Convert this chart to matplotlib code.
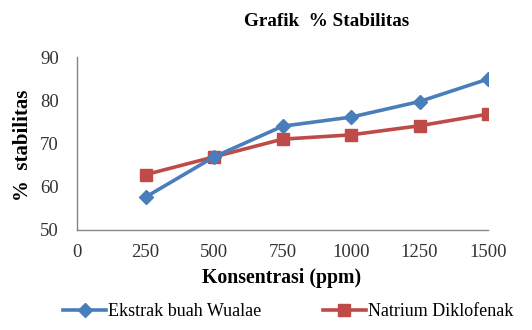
import matplotlib
matplotlib.use("Agg")
import matplotlib.pyplot as plt

konsentrasi = [250, 500, 750, 1000, 1250, 1500]
ekstrak = [57.6, 66.9, 74.0, 76.1, 79.7, 84.9]
natrium = [62.8, 66.9, 71.0, 72.0, 74.1, 76.8]
xticks = [0, 250, 500, 750, 1000, 1250, 1500]
yticks = [50, 60, 70, 80, 90]

plt.rcParams['font.family'] = ['Liberation Serif', 'DejaVu Serif']

fig = plt.figure(figsize=(5.32, 3.30), dpi=100)
ax = fig.add_axes([77/532, 1-230/330, 411/532, 173/330])

blue = '#4A7EBB'
red = '#BE4B48'
ax.plot(konsentrasi, ekstrak, color=blue, lw=2.6, marker='D', markersize=7,
        label='Ekstrak buah Wualae', zorder=3)
ax.plot(konsentrasi, natrium, color=red, lw=2.6, marker='s', markersize=9,
        label='Natrium Diklofenak', zorder=2)

ax.set_xlim(0, 1500)
ax.set_ylim(50, 90)
ax.set_xticks(xticks)
ax.set_yticks(yticks)
ax.tick_params(length=0, labelsize=13.5, colors='#333333')
ax.tick_params(axis='x', pad=10)
ax.tick_params(axis='y', pad=13)
for s in ['top', 'right']:
    ax.spines[s].set_visible(False)
for s in ['left', 'bottom']:
    ax.spines[s].set_color('#868686')
    ax.spines[s].set_linewidth(1.0)

ax.set_xlabel('Konsentrasi (ppm)', fontsize=14.2, fontweight='bold')
ax.xaxis.set_label_coords((282-77)/411, (230-268)/173)
ax.set_ylabel('%  stabilitas', fontsize=15, fontweight='bold', va='center')
ax.yaxis.set_label_coords((23-77)/411, (230-145)/173)

fig.text(327/532, 1-21/330, 'Grafik  % Stabilitas', fontsize=13.8,
         fontweight='bold', ha='center', va='center')

fig.legend(loc='center left', bbox_to_anchor=(63/532, 1-312/330), ncol=2,
           frameon=False, fontsize=13, handlelength=2.4, handletextpad=0.1,
           columnspacing=3.4, borderaxespad=0, borderpad=0)

fig.savefig('out.png', dpi=100)
